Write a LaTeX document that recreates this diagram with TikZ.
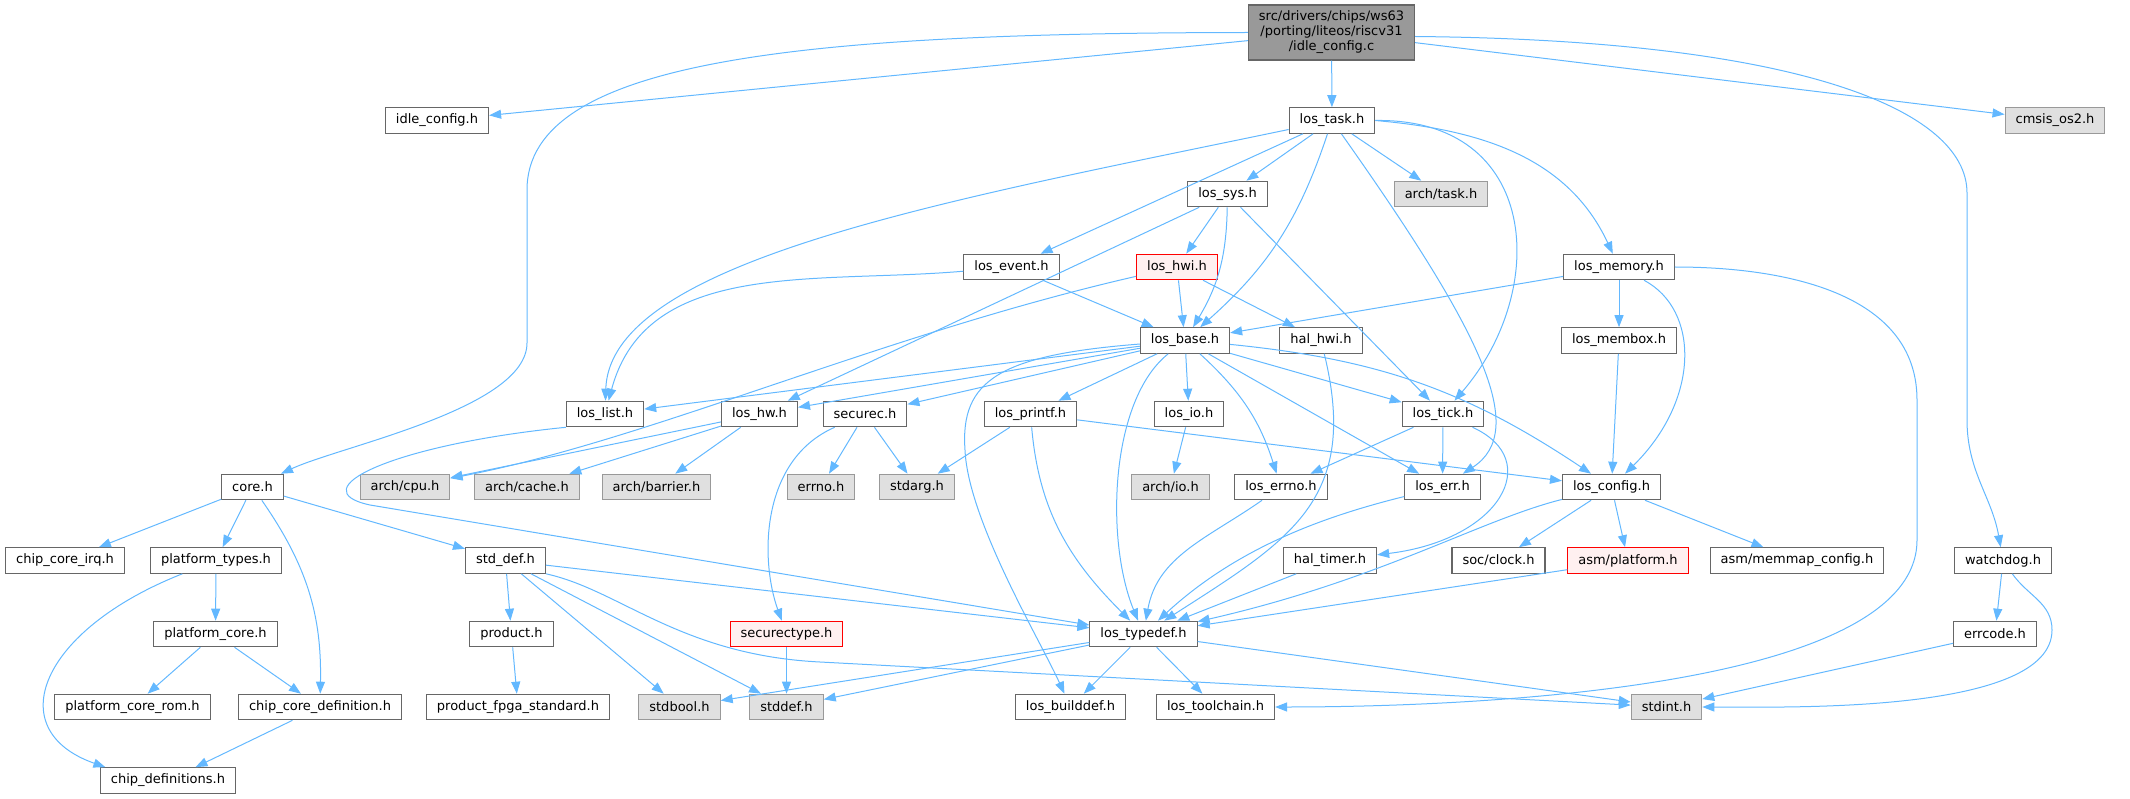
\documentclass[tikz,border=0pt]{standalone}
\usepackage{fontspec}
\setmainfont{DejaVu Sans}
\usetikzlibrary{arrows.meta}
\definecolor{incblue}{HTML}{63B8FF}
\definecolor{boxgray}{HTML}{666666}
\definecolor{extgray}{HTML}{999999}
\definecolor{extfill}{HTML}{E0E0E0}
\definecolor{badfill}{HTML}{FFF0F0}
\tikzset{incl/.style={line width=1pt, draw=incblue, -{Triangle[length=12pt,width=9pt]}}}

\begin{document}
\begin{tikzpicture}[
            x=1pt, y=-1pt,
            every node/.style={draw=boxgray, fill=white, line width=1.1pt, minimum height=25.5pt,
                inner xsep=10.5pt, inner ysep=2pt, font=\fontsize{13}{15}\selectfont},
            ext/.style={draw=extgray, fill=extfill},
            bad/.style={draw=red, fill=badfill}
        ]
            \useasboundingbox (0,0) rectangle (2130,799);

            \node[fill=extgray, align=center, minimum height=55pt] (root) at (1331.5,32.5)
                {src/drivers/chips/ws63\\/porting/liteos/riscv31\\/idle\_config.c};
            \node (idlecfg) at (437,120.5) {idle\_config.h};
            \node (task) at (1332,120.5) {los\_task.h};
            \node[ext] (cmsis) at (2055,120.5) {cmsis\_os2.h};
            \node (sys) at (1227.5,194) {los\_sys.h};
            \node[ext] (archtask) at (1441,194) {arch/task.h};
            \node (event) at (1011.5,267) {los\_event.h};
            \node[bad] (hwi) at (1177,267) {los\_hwi.h};
            \node (memory) at (1619,267) {los\_memory.h};
            \node (base) at (1185,340.5) {los\_base.h};
            \node (halhwi) at (1321,340.5) {hal\_hwi.h};
            \node (membox) at (1619,340.5) {los\_membox.h};
            \node (list) at (605,414) {los\_list.h};
            \node (hw) at (759.5,414) {los\_hw.h};
            \node (securec) at (865,414) {securec.h};
            \node (printf) at (1030.5,414) {los\_printf.h};
            \node (io) at (1189,414) {los\_io.h};
            \node (tick) at (1443,414) {los\_tick.h};
            \node (core) at (252.5,487) {core.h};
            \node[ext] (cpu) at (405,487) {arch/cpu.h};
            \node[ext] (cache) at (527,487) {arch/cache.h};
            \node[ext] (barrier) at (656.5,487) {arch/barrier.h};
            \node[ext] (errnoh) at (821,487) {errno.h};
            \node[ext] (stdarg) at (917,487) {stdarg.h};
            \node[ext] (archio) at (1170.5,487) {arch/io.h};
            \node (loserrno) at (1281,487) {los\_errno.h};
            \node (err) at (1442.5,487) {los\_err.h};
            \node (config) at (1611.5,487) {los\_config.h};
            \node (irq) at (65,560.5) {chip\_core\_irq.h};
            \node (ptypes) at (216,560.5) {platform\_types.h};
            \node (sdef) at (505.5,560.5) {std\_def.h};
            \node (haltimer) at (1330,560.5) {hal\_timer.h};
            \node (clock) at (1498.5,560.5) {soc/clock.h};
            \node[bad] (platform) at (1628,560.5) {asm/platform.h};
            \node (memmap) at (1797,560.5) {asm/memmap\_config.h};
            \node (watchdog) at (2003,560.5) {watchdog.h};
            \node (pcore) at (215.5,634) {platform\_core.h};
            \node (product) at (511.5,634) {product.h};
            \node[bad] (sectype) at (786.5,634) {securectype.h};
            \node (typedef) at (1143.5,634) {los\_typedef.h};
            \node (errcode) at (1995,634) {errcode.h};
            \node (pcorerom) at (132.5,707) {platform\_core\_rom.h};
            \node (ccdef) at (320,707) {chip\_core\_definition.h};
            \node (fpga) at (518,707) {product\_fpga\_standard.h};
            \node[ext] (stdbool) at (679.5,707) {stdbool.h};
            \node[ext] (stddef) at (786.5,707) {stddef.h};
            \node (builddef) at (1070.5,707) {los\_builddef.h};
            \node (toolchain) at (1215.5,707) {los\_toolchain.h};
            \node[ext] (stdint) at (1666.5,707) {stdint.h};
            \node (chipdefs) at (168,780.5) {chip\_definitions.h};

            \draw[incl] (root) to (idlecfg);
            \draw[incl] (root) to (task);
            \draw[incl] (root) to (cmsis);
            \draw[incl] (root.west) .. controls (800,33) and (527,60) .. (527,190) -- (527,343)
                to[out=-90, in=25, looseness=0.6] (core);
            \draw[incl] ([yshift=-4pt]root.east) .. controls (1800,40) and (1967,110) .. (1967,193)
                -- (1967,420) to[out=-90, in=100] (watchdog);

            \draw[incl] (task) to (sys);
            \draw[incl] (task) to (archtask);
            \draw[incl] (task.east) to[out=-5, in=115] (memory);
            \draw[incl] (task.east) .. controls (1540,118) and (1550,290) .. (tick);
            \draw[incl] (task) .. controls (1480,330) and (1530,430) .. (err);
            \draw[incl] (task) to[bend left=15] (base);
            \draw[incl] (task) to (event);
            \draw[incl] (task) .. controls (950,200) and (610,260) .. (list);

            \draw[incl] (sys) to (hwi);
            \draw[incl] (sys) to[bend left=15] (base);
            \draw[incl] (sys) to (hw);
            \draw[incl] (sys) to (tick);

            \draw[incl] (event) to (base);
            \draw[incl] (event) to[out=185, in=75] (list);

            \draw[incl] (hwi) to (base);
            \draw[incl] (hwi) to (halhwi);
            \draw[incl] (hwi) .. controls (880,335) and (650,440) .. (cpu);

            \draw[incl] (memory) to (base);
            \draw[incl] (memory) to (membox);
            \draw[incl] (memory) .. controls (1700,310) and (1700,400) .. (config);
            \draw[incl] (memory.east) to[out=0, in=90] (1917,400) -- (1917,540)
                to[out=-90, in=0, looseness=0.6] (toolchain);
            \draw[incl] (membox) to (config);

            \draw[incl] (base) to (list);
            \draw[incl] (base) to (hw);
            \draw[incl] (base) to (securec);
            \draw[incl] (base) to (printf);
            \draw[incl] (base) to (io);
            \draw[incl] (base) to[bend left=15] (loserrno);
            \draw[incl] (base) to (err);
            \draw[incl] (base) to (tick);
            \draw[incl] (base) to[bend left=14] (config);
            \draw[incl] (base) .. controls (1110,400) and (1105,540) .. (typedef);
            \draw[incl] (base) .. controls (1000,355) and (960,380) .. (965,450)
                .. controls (968,520) and (1040,640) .. (builddef);

            \draw[incl] (halhwi) .. controls (1360,500) and (1290,540) .. (typedef);
            \draw[incl] (list.south west) .. controls (390,445) and (300,490) .. (370,505) -- (typedef);

            \draw[incl] (hw) to (cpu);
            \draw[incl] (hw) to (cache);
            \draw[incl] (hw) to (barrier);

            \draw[incl] (securec) to (errnoh);
            \draw[incl] (securec) to (stdarg);
            \draw[incl] (securec) .. controls (760,460) and (760,560) .. (sectype);

            \draw[incl] (printf) to (stdarg);
            \draw[incl] (printf) to[out=-85, in=135] (typedef);
            \draw[incl] (printf) to (config);
            \draw[incl] (io) to (archio);

            \draw[incl] (tick) to (loserrno);
            \draw[incl] (tick) to (err);
            \draw[incl] (tick) .. controls (1545,460) and (1500,540) .. (haltimer);

            \draw[incl] (core) to (irq);
            \draw[incl] (core) to (ptypes);
            \draw[incl] (core) to[bend left=18] (ccdef);
            \draw[incl] (core) to (sdef);
            \draw[incl] (ptypes) to (pcore);
            \draw[incl] (ptypes) .. controls (40,630) and (0,730) .. (chipdefs.168);
            \draw[incl] (pcore) to (pcorerom);
            \draw[incl] (pcore) to (ccdef);
            \draw[incl] (ccdef) to (chipdefs);

            \draw[incl] (sdef) to (product);
            \draw[incl] (sdef) to (stdbool);
            \draw[incl] (sdef) to (stddef);
            \draw[incl] (sdef) to (typedef);
            \draw[incl] (sdef.south east) .. controls (620,590) and (680,655) .. (820,662) -- (stdint);
            \draw[incl] (product) to (fpga);

            \draw[incl] (loserrno) to[out=215, in=80] (typedef);
            \draw[incl] (err) .. controls (1330,515) and (1240,545) .. (typedef);
            \draw[incl] (haltimer) to (typedef);
            \draw[incl] (config) to (clock);
            \draw[incl] (config) to (platform);
            \draw[incl] (config) to (memmap);
            \draw[incl] (config) .. controls (1480,520) and (1380,580) .. (typedef);
            \draw[incl] (platform) to (typedef);
            \draw[incl] (sectype) to (stddef);

            \draw[incl] (typedef) to (stdbool);
            \draw[incl] (typedef) to (stddef);
            \draw[incl] (typedef) to (builddef);
            \draw[incl] (typedef) to (toolchain);
            \draw[incl] (typedef) to (stdint);

            \draw[incl] (watchdog) to (errcode);
            \draw[incl] (watchdog) to[out=-55, in=90] (2052,630) to[out=-90, in=0, looseness=0.6] (stdint);
            \draw[incl] (errcode) to (stdint);
        \end{tikzpicture}
\end{document}
